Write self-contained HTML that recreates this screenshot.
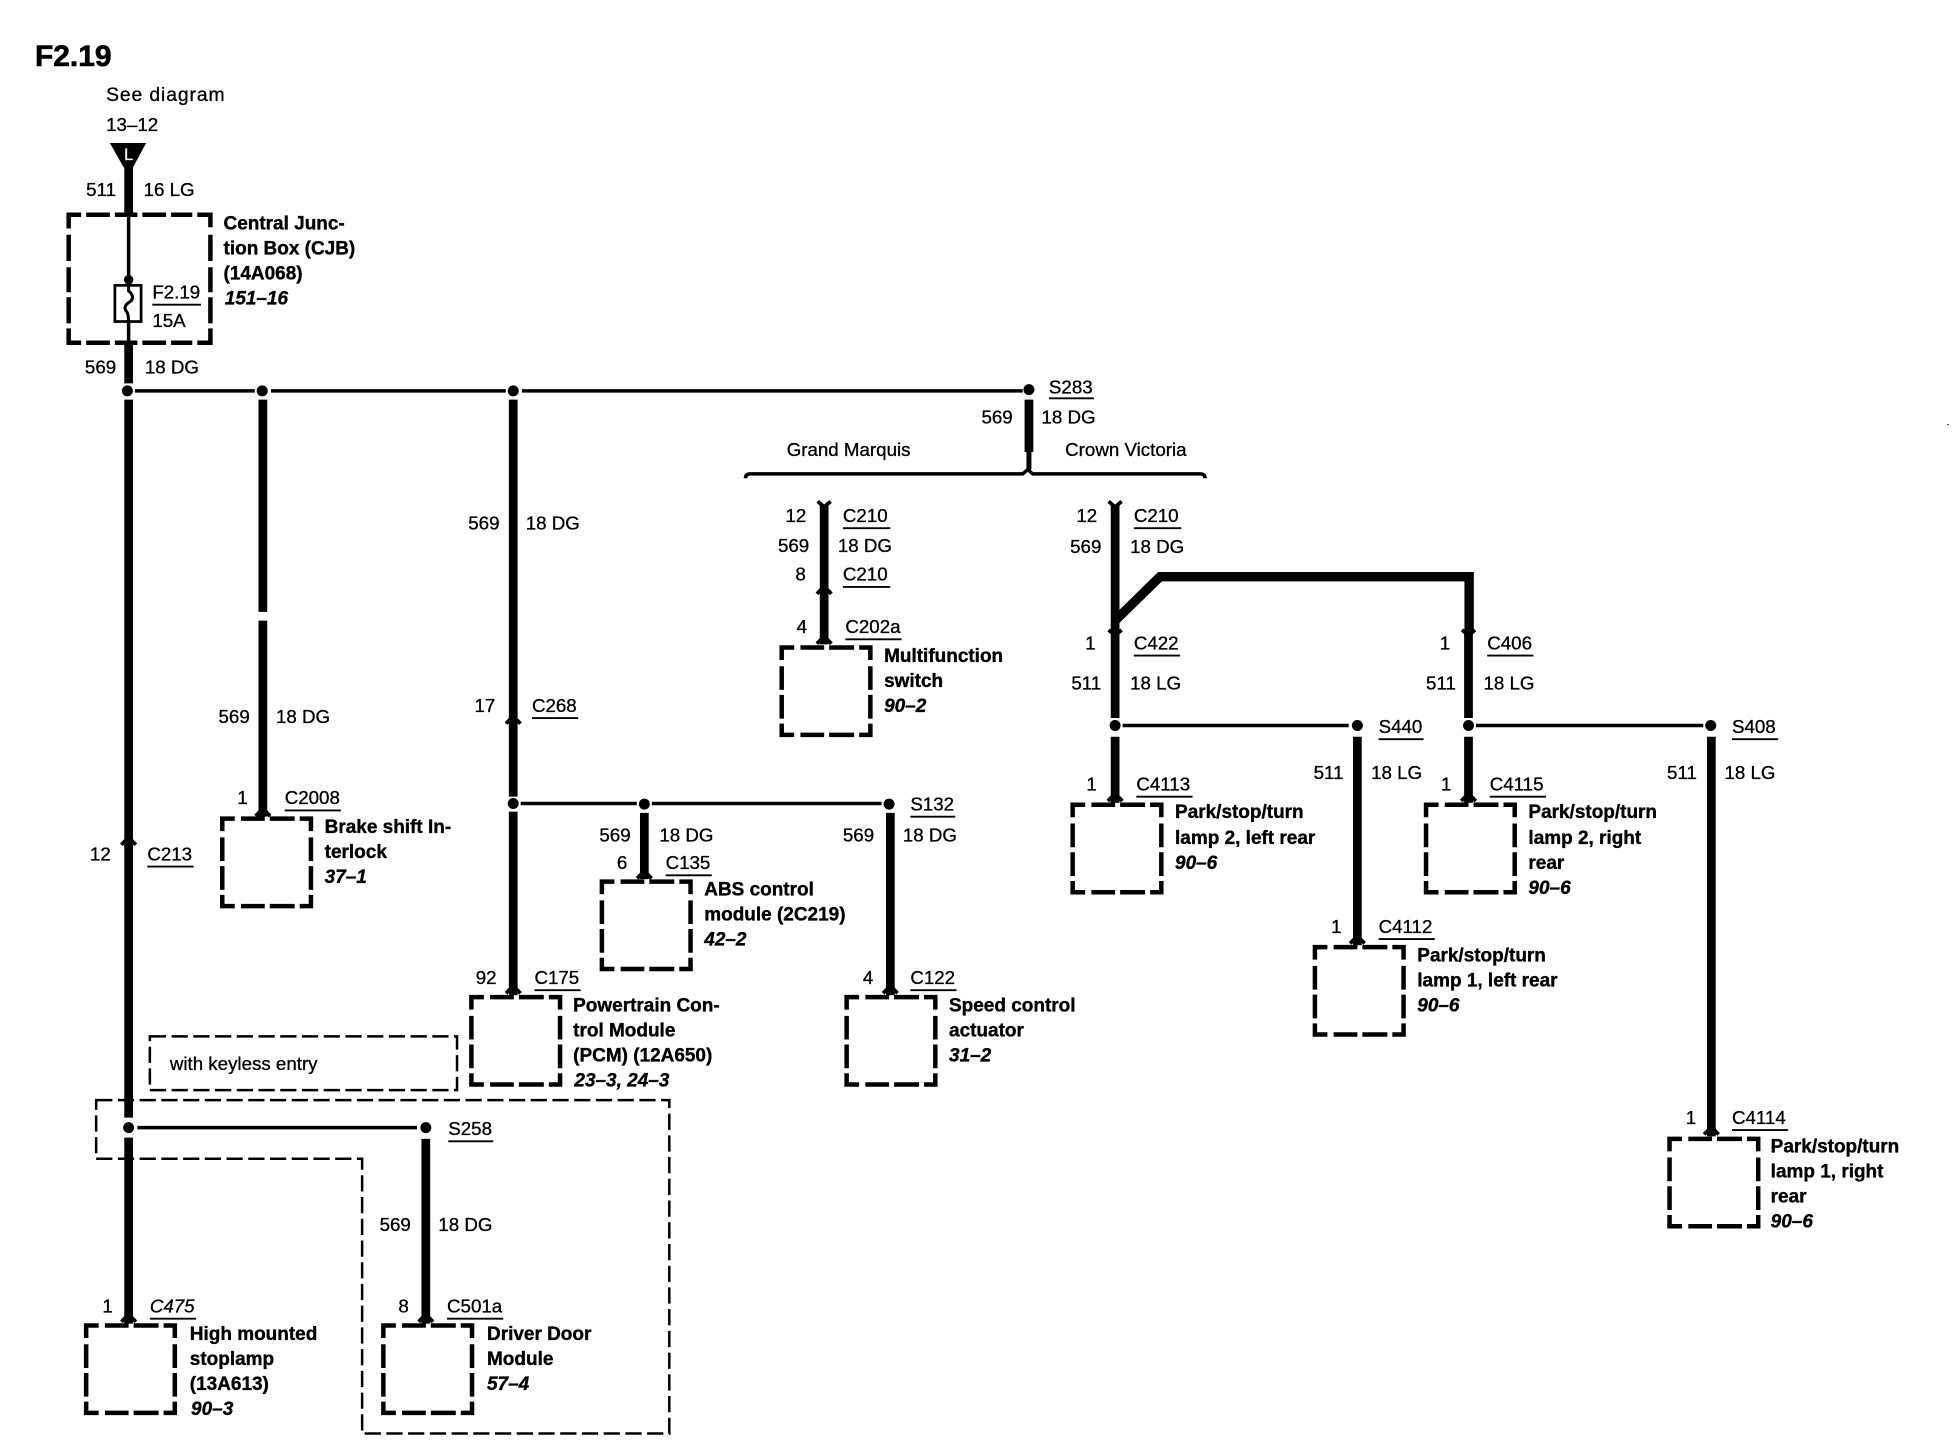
<!DOCTYPE html>
<html lang="en"><head><meta charset="utf-8"><title>F2.19</title>
<style>
html,body{margin:0;padding:0;background:#fff}
svg{display:block}
text{font-family:"Liberation Sans",Arial,sans-serif;font-size:15px;fill:#000;stroke:#000;stroke-width:.25px}
.b{font-weight:bold;font-size:15.2px;stroke-width:.3px}
.i{font-weight:bold;font-style:italic;font-size:15.2px;stroke-width:.3px}
.t{font-size:24px;font-weight:bold;stroke-width:.5px}
.n{font-style:italic}
.k{font-size:15px}
</style></head><body>
<svg width="1958" height="1456" viewBox="0 0 1568 1166" preserveAspectRatio="none" xmlns="http://www.w3.org/2000/svg">
<defs>
<g id="m" fill="none" stroke="#000" stroke-width="3.6">
<path d="M0 10V0H10M15 0H34M38 0H58M62 0H71V10M71 15V34M71 38V57M71 61V70H62M58 70H38M34 70H15M10 70H0V61M0 57V38M0 34V15"/>
</g>
<path id="u" d="M-5.800 3.500L0 -2.500L5.800 3.500" fill="none" stroke="#000" stroke-width="3"/>
<path id="f" d="M-5.200 -2.500L0 2L5.200 -2.500" fill="none" stroke="#000" stroke-width="3"/>
</defs>
<rect width="1568" height="1166" fill="#fff"/>

<!-- module boxes -->
<use href="#m" x="178" y="655.600"/>
<use href="#m" x="482" y="706"/>
<use href="#m" x="377.500" y="798.500"/>
<use href="#m" x="678" y="798.500"/>
<use href="#m" x="626" y="518.500"/>
<use href="#m" x="69" y="1061.500"/>
<use href="#m" x="307" y="1061.500"/>
<use href="#m" x="859" y="644.500"/>
<use href="#m" x="1142" y="644.500"/>
<use href="#m" x="1053" y="758.500"/>
<use href="#m" x="1337" y="912"/>

<!-- CJB box -->
<path d="M55 183V172H65M69 172H88M92 172H110M114 172H133M137 172H154M158 172H168.500V182M168.500 188V209M168.500 214V234M168.500 238V259M168.500 263V274.500H158M154 274.500H137M133 274.500H114M110 274.500H92M88 274.500H69M65 274.500H55V263M55 259V238M55 234V214M55 209V188" fill="none" stroke="#000" stroke-width="3.6"/>

<!-- thin dashed boxes -->
<rect x="120" y="830" width="246" height="43" fill="none" stroke="#000" stroke-width="2" stroke-dasharray="13 4.400"/>
<path d="M77 881H536V1148H290V928H77Z" fill="none" stroke="#000" stroke-width="2" stroke-dasharray="13 4.400"/>

<!-- wires: thick -->
<g fill="none" stroke="#000" stroke-width="7">
<path d="M103 133V171M103 275V307"/>
<path d="M103 320V895M103 911V1060"/>
<path d="M210.500 320V490M210.500 497V654"/>
<path d="M411 320V638M411 650V797"/>
<path d="M824 320V362"/>
<path d="M660 404V516"/>
<path d="M893 404V575M893 590V643"/>
<path d="M893 497L929 461.800H1176.500V505" stroke-width="7.500"/>
<path d="M1176 505V575M1176 590V643"/>
<path d="M516 651V704M713 651V797"/>
<path d="M1087 590V757M1370.500 590V910"/>
<path d="M341 912V1060"/>
</g>
<!-- thin -->
<g fill="none" stroke="#000" stroke-width="2.800">
<path d="M103 171V222M103 258V275"/>
<path d="M108 313H204M217 313H405M418 313H819"/>
<path d="M824 362V376" stroke-width="4"/>
<path d="M417 643.500H510M522 643.500H706"/>
<path d="M899 581H1080M1182 581H1364"/>
<path d="M110 903H334"/>
<path d="M597 383Q597 379.500 601 379.500H819L823 376L827 379.500H961Q965 379.500 965 383"/>
</g>
<!-- dots -->
<g fill="#000">
<circle cx="102" cy="313" r="4.400"/><circle cx="210" cy="313" r="4.400"/><circle cx="411" cy="313" r="4.400"/><circle cx="824" cy="312" r="4.400"/>
<circle cx="411" cy="643.500" r="4.400"/><circle cx="516" cy="644" r="4.400"/><circle cx="712" cy="644" r="4.400"/>
<circle cx="893" cy="581" r="4.400"/><circle cx="1087" cy="581" r="4.400"/><circle cx="1176" cy="581" r="4.400"/><circle cx="1370" cy="581" r="4.400"/>
<circle cx="103" cy="903" r="4.400"/><circle cx="341" cy="903" r="4.400"/>
<circle cx="103" cy="224" r="3.800"/>
<circle cx="1560" cy="340" r=".6"/>
</g>
<!-- connector arrows -->
<use href="#u" x="103" y="673"/>
<use href="#u" x="210.500" y="650"/>
<use href="#u" x="411" y="576"/>
<use href="#u" x="411" y="792"/>
<use href="#u" x="516" y="700"/>
<use href="#u" x="713" y="792"/>
<use href="#u" x="660" y="472"/>
<use href="#u" x="660" y="512"/>
<use href="#u" x="1087" y="752"/>
<use href="#u" x="1370.500" y="905"/>
<use href="#u" x="103" y="1055"/>
<use href="#u" x="341" y="1055"/>
<use href="#u" x="893" y="638"/>
<use href="#u" x="1176" y="638"/>
<use href="#f" x="660" y="404"/>
<use href="#f" x="893" y="404"/>
<use href="#f" x="893" y="507"/>
<use href="#f" x="1176" y="507"/>

<!-- source triangle -->
<path d="M88 114.500H117L106.500 134H99Z" fill="#000"/>
<text x="103" y="128" text-anchor="middle" style="fill:#fff;stroke:#fff;font-size:13px">L</text>

<!-- fuse -->
<rect x="92" y="228.500" width="21" height="29" fill="#fff" stroke="#000" stroke-width="2.200"/>
<path d="M103 226V233Q108 237 105 241Q98 245 101 249Q103 251 103 258" fill="none" stroke="#000" stroke-width="2.400"/>

<!-- underlines -->
<g stroke="#000" stroke-width="1.500">
<path d="M122 244H161M840 319H876M675 423H713M675 470H713M677 512H722M908 423H946M908 525H945M1191 525H1228M1104 592H1140M1387 592H1424M910 638H955M1193 638H1238M1104 752H1149M1387 905H1432M228 649H273M426 575H463M533 701H570M729 654H765M428 793H465M729 793H766M118 694H155M359 914H395M120 1056H157M358 1056H403"/>
</g>

<!-- labels -->
<text class="t" x="28" y="53">F2.19</text>
<text x="85" y="81" style="font-size:15.500px;letter-spacing:.7px">See diagram</text>
<text x="85" y="105">13–12</text>
<text x="69" y="157">511</text><text x="115" y="157">16 LG</text>
<text class="b" x="179" y="184">Central Junc-</text>
<text class="b" x="179" y="204">tion Box (CJB)</text>
<text class="b" x="179" y="224">(14A068)</text>
<text class="i" x="180" y="244">151–16</text>
<text x="122" y="239">F2.19</text><text x="122" y="262">15A</text>
<text x="68" y="299">569</text><text x="116" y="299">18 DG</text>
<text x="840" y="315">S283</text>
<text x="786" y="339">569</text><text x="834" y="339">18 DG</text>
<text x="630" y="365">Grand Marquis</text><text x="853" y="365">Crown Victoria</text>
<text x="629" y="418">12</text><text x="675" y="418">C210</text>
<text x="623" y="442">569</text><text x="671" y="442">18 DG</text>
<text x="637" y="465">8</text><text x="675" y="465">C210</text>
<text x="638" y="507">4</text><text x="677" y="507">C202a</text>
<text class="b" x="708" y="530">Multifunction</text>
<text class="b" x="708" y="550">switch</text>
<text class="i" x="708" y="570">90–2</text>
<text x="862" y="418">12</text><text x="908" y="418">C210</text>
<text x="857" y="443">569</text><text x="905" y="443">18 DG</text>
<text x="869" y="520">1</text><text x="908" y="520">C422</text>
<text x="858" y="552">511</text><text x="905" y="552">18 LG</text>
<text x="1153" y="520">1</text><text x="1191" y="520">C406</text>
<text x="1142" y="552">511</text><text x="1188" y="552">18 LG</text>
<text x="1104" y="587">S440</text><text x="1387" y="587">S408</text>
<text x="1052" y="624">511</text><text x="1098" y="624">18 LG</text>
<text x="1335" y="624">511</text><text x="1381" y="624">18 LG</text>
<text x="870" y="633">1</text><text x="910" y="633">C4113</text>
<text class="b" x="941" y="655">Park/stop/turn</text>
<text class="b" x="941" y="676">lamp 2, left rear</text>
<text class="i" x="941" y="696">90–6</text>
<text x="1154" y="633">1</text><text x="1193" y="633">C4115</text>
<text class="b" x="1224" y="655">Park/stop/turn</text>
<text class="b" x="1224" y="676">lamp 2, right</text>
<text class="b" x="1224" y="696">rear</text>
<text class="i" x="1224" y="716">90–6</text>
<text x="1066" y="747">1</text><text x="1104" y="747">C4112</text>
<text class="b" x="1135" y="770">Park/stop/turn</text>
<text class="b" x="1135" y="790">lamp 1, left rear</text>
<text class="i" x="1135" y="810">90–6</text>
<text x="1350" y="900">1</text><text x="1387" y="900">C4114</text>
<text class="b" x="1418" y="923">Park/stop/turn</text>
<text class="b" x="1418" y="943">lamp 1, right</text>
<text class="b" x="1418" y="963">rear</text>
<text class="i" x="1418" y="983">90–6</text>
<text x="375" y="424">569</text><text x="421" y="424">18 DG</text>
<text x="175" y="579">569</text><text x="221" y="579">18 DG</text>
<text x="190" y="644">1</text><text x="228" y="644">C2008</text>
<text class="b" x="260" y="667">Brake shift In-</text>
<text class="b" x="260" y="687">terlock</text>
<text class="i" x="260" y="707">37–1</text>
<text x="380" y="570">17</text><text x="426" y="570">C268</text>
<text x="480" y="674">569</text><text x="528" y="674">18 DG</text>
<text x="494" y="696">6</text><text x="533" y="696">C135</text>
<text class="b" x="564" y="717">ABS control</text>
<text class="b" x="564" y="737">module (2C219)</text>
<text class="i" x="564" y="757">42–2</text>
<text x="675" y="674">569</text><text x="723" y="674">18 DG</text>
<text x="729" y="649">S132</text>
<text x="381" y="788">92</text><text x="428" y="788">C175</text>
<text class="b" x="459" y="810">Powertrain Con-</text>
<text class="b" x="459" y="830">trol Module</text>
<text class="b" x="459" y="850">(PCM) (12A650)</text>
<text class="i" x="460" y="870">23–3, 24–3</text>
<text x="691" y="788">4</text><text x="729" y="788">C122</text>
<text class="b" x="760" y="810">Speed control</text>
<text class="b" x="760" y="830">actuator</text>
<text class="i" x="760" y="850">31–2</text>
<text x="72" y="689">12</text><text x="118" y="689">C213</text>
<text class="k" x="136" y="857">with keyless entry</text>
<text x="359" y="909">S258</text>
<text x="304" y="986">569</text><text x="351" y="986">18 DG</text>
<text x="82" y="1051">1</text><text class="n" x="120" y="1051">C475</text>
<text x="319" y="1051">8</text><text x="358" y="1051">C501a</text>
<text class="b" x="152" y="1073">High mounted</text>
<text class="b" x="152" y="1093">stoplamp</text>
<text class="b" x="152" y="1113">(13A613)</text>
<text class="i" x="153" y="1133">90–3</text>
<text class="b" x="390" y="1073">Driver Door</text>
<text class="b" x="390" y="1093">Module</text>
<text class="i" x="390" y="1113">57–4</text>
</svg>
</body></html>
